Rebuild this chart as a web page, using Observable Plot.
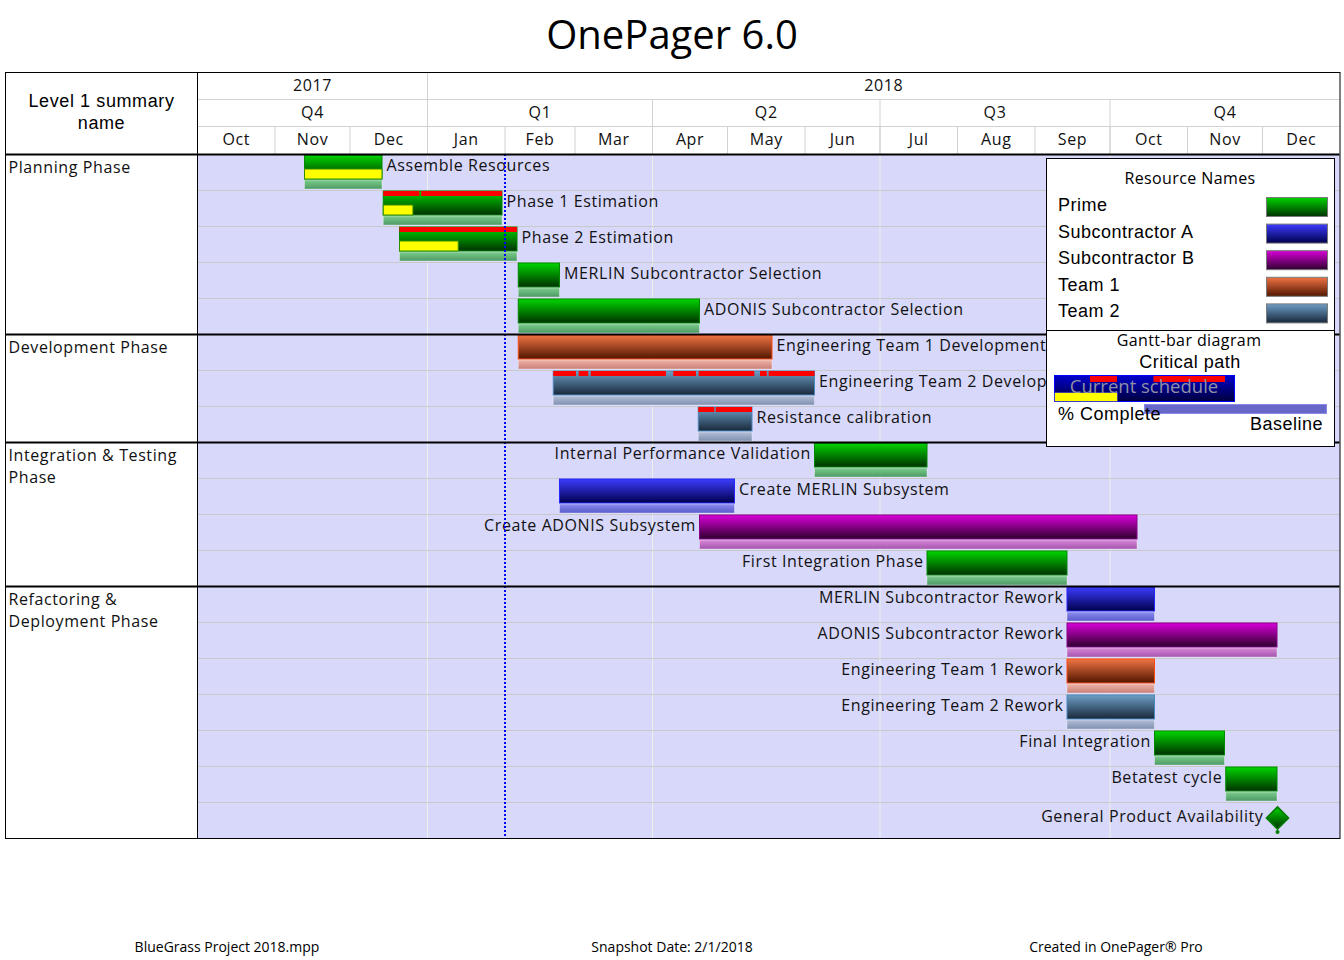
<!DOCTYPE html>
<html><head><meta charset="utf-8">
<script src="https://cdn.jsdelivr.net/npm/d3@7"></script>
<script src="https://cdn.jsdelivr.net/npm/@observablehq/plot@0.6"></script>
<style>
body{margin:0;background:#fff;width:1344px;height:960px;position:relative;overflow:hidden;font-family:"Open Sans",sans-serif}
#title{position:absolute;left:0;top:14px;width:1344px;text-align:center;font-size:40px;line-height:40px;color:#000}
#chart{position:absolute;left:0;top:72px}
#legend{position:absolute;left:1046px;top:158px}
.foot{position:absolute;top:939px;font-size:14px;line-height:16px;transform:translateX(-50%);white-space:nowrap;color:#000}
</style></head>
<body>
<div id="title">OnePager 6.0</div>
<div id="chart"></div>
<div id="legend"></div>
<div id="footer"></div>
<script>
// ---------------- DATA ----------------
const timelineStart = "2017-10-01";
const timelineEnd = "2019-01-01";
const snapshotDate = "2018-02-01";
const yearLabels = ["2017", "2018"];
const quarterLabels = ["Q4", "Q1", "Q2", "Q3", "Q4"];
const monthLabels = ["Oct","Nov","Dec","Jan","Feb","Mar","Apr","May","Jun","Jul","Aug","Sep","Oct","Nov","Dec"];
const headerTitle = "Level 1 summary\nname";

const phaseNames = ["Planning Phase", "Development Phase", "Integration & Testing\nPhase", "Refactoring &\nDeployment Phase"];
const phaseRowCounts = [5, 3, 4, 7];

const taskNames = [
  "Assemble Resources", "Phase 1 Estimation", "Phase 2 Estimation", "MERLIN Subcontractor Selection", "ADONIS Subcontractor Selection",
  "Engineering Team 1 Development", "Engineering Team 2 Development", "Resistance calibration",
  "Internal Performance Validation", "Create MERLIN Subsystem", "Create ADONIS Subsystem", "First Integration Phase",
  "MERLIN Subcontractor Rework", "ADONIS Subcontractor Rework", "Engineering Team 1 Rework", "Engineering Team 2 Rework",
  "Final Integration", "Betatest cycle", "General Product Availability"
];
const taskStarts = [
  "2017-11-13", "2017-12-14T12:00Z", "2017-12-21", "2018-02-06T12:00Z", "2018-02-06T12:00Z",
  "2018-02-06T12:00Z", "2018-02-20T12:00Z", "2018-04-19T12:00Z",
  "2018-06-05", "2018-02-23", "2018-04-20", "2018-07-20",
  "2018-09-14", "2018-09-14", "2018-09-14", "2018-09-14",
  "2018-10-19", "2018-11-16T12:00Z", "2018-12-07"
];
const taskEnds = [
  "2017-12-14", "2018-01-31", "2018-02-06", "2018-02-23", "2018-04-20",
  "2018-05-19", "2018-06-05", "2018-05-11",
  "2018-07-20", "2018-05-04", "2018-10-12", "2018-09-14",
  "2018-10-19", "2018-12-07", "2018-10-19", "2018-10-19",
  "2018-11-16", "2018-12-07", "2018-12-07"
];
const taskResources = [
  "Prime", "Prime", "Prime", "Prime", "Prime",
  "Team 1", "Team 2", "Team 2",
  "Prime", "Subcontractor A", "Subcontractor B", "Prime",
  "Subcontractor A", "Subcontractor B", "Team 1", "Team 2",
  "Prime", "Prime", "Prime"
];
const taskPercentComplete = [100, 25, 50, 0, 0, 0, 0, 0, 0, 0, 0, 0, 0, 0, 0, 0, 0, 0, 0];
const taskLabelSide = [
  "right", "right", "right", "right", "right",
  "right", "right", "right",
  "left", "right", "left", "left",
  "left", "left", "left", "left",
  "left", "left", "left"
];
const criticalSegments = [
  [],
  [["2017-12-14T12:00Z", "2017-12-29"], ["2017-12-29T16:00Z", "2018-01-31"]],
  [["2017-12-21", "2018-02-06"]],
  [], [], [],
  [["2018-02-20T12:00Z", "2018-03-01T14:00Z"], ["2018-03-02T16:00Z", "2018-03-06T12:00Z"], ["2018-03-07T12:00Z", "2018-04-06T14:00Z"],
   ["2018-04-09T12:00Z", "2018-04-18T14:00Z"], ["2018-04-19T16:00Z", "2018-05-11T22:00Z"], ["2018-05-14T05:00Z", "2018-05-16T22:00Z"],
   ["2018-05-17T16:00Z", "2018-06-05"]],
  [["2018-04-19T12:00Z", "2018-04-25T22:00Z"], ["2018-04-26T12:00Z", "2018-05-11"]],
  [], [], [], [], [], [], [], [], [], [], []
];
const resourceNames = ["Prime", "Subcontractor A", "Subcontractor B", "Team 1", "Team 2"];
const footerTexts = ["BlueGrass Project 2018.mpp", "Snapshot Date: 2/1/2018", "Created in OnePager\u00ae Pro"];

// ---------------- STYLES / LAYOUT ----------------
const resourceStyle = {
  "Prime":           {top: "#00d400", bottom: "#003200", stroke: "#008a00", baseTop: "#7ccc8c", baseBottom: "#4c9a64"},
  "Subcontractor A": {top: "#3c3cff", bottom: "#00004c", stroke: "#2424ff", baseTop: "#8c8cf0", baseBottom: "#5a5acc"},
  "Subcontractor B": {top: "#d800d8", bottom: "#2e002e", stroke: "#8a008a", baseTop: "#d888d8", baseBottom: "#a454ac"},
  "Team 1":          {top: "#f07444", bottom: "#521600", stroke: "#ff4a10", baseTop: "#f0b2a8", baseBottom: "#c88078"},
  "Team 2":          {top: "#6e9ec6", bottom: "#18283a", stroke: "#4a88c0", baseTop: "#b2bed8", baseBottom: "#8090b0"}
};
const key = r => r.replace(/\s+/g, "-");
const ROW_H = 36, HEADER_H = 82, LEFT_W = 192, MONTH_H = 28, QUARTER_H = 55;
const M = {top: HEADER_H, bottom: 2, left: 197, right: 4.5};
const W = 1344;

// ---------------- DERIVED ----------------
const T0 = new Date(timelineStart), T1 = new Date(timelineEnd);
const tasks = taskNames.map((name, i) => ({
  name, row: i, start: new Date(taskStarts[i]), end: new Date(taskEnds[i]), res: taskResources[i],
  pct: taskPercentComplete[i], side: taskLabelSide[i], milestone: taskStarts[i] === taskEnds[i]
}));
const bars = tasks.filter(d => !d.milestone);
const milestones = tasks.filter(d => d.milestone);
const progress = bars.filter(d => d.pct > 0).map(d => ({...d, pend: new Date(+d.start + (d.end - d.start) * d.pct / 100)}));
const crit = tasks.flatMap(d => criticalSegments[d.row].map(([s, e]) => ({row: d.row, s: new Date(s), e: new Date(e)})));

let acc = 0;
const phases = phaseNames.map((name, i) => { const p = {name, row: acc}; acc += phaseRowCounts[i]; return p; });
const totalRows = acc;
const phaseBoundaries = phases.slice(1).map(p => p.row);
const rowLines = d3.range(1, totalRows).filter(r => !phaseBoundaries.includes(r));
const FRAME_H = totalRows * ROW_H;
const H = HEADER_H + FRAME_H + M.bottom;

const monthStarts = d3.utcMonth.range(T0, T1);
const months = monthStarts.map((s, i) => ({label: monthLabels[i], s, e: monthStarts[i + 1] || T1}));
const qStarts = d3.utcMonth.every(3).range(T0, T1);
const quarters = qStarts.map((s, i) => ({label: quarterLabels[i], s, e: qStarts[i + 1] || T1}));
const yStarts = [T0, ...d3.utcYear.range(T0, T1)];
const years = yStarts.map((s, i) => ({label: yearLabels[i], s, e: yStarts[i + 1] || T1}));
const mid = d => new Date((+d.s + +d.e) / 2);

const labelFont = {fontSize: 16, fill: "#111"};

const svg = Plot.plot({
  width: W, height: H,
  marginTop: M.top, marginBottom: M.bottom, marginLeft: M.left, marginRight: M.right,
  x: {type: "utc", domain: [T0, T1], axis: null},
  y: {domain: [0, totalRows], reverse: true, axis: null},
  color: {type: "identity"},
  style: {fontFamily: "'Open Sans', sans-serif", fontSize: "16px", color: "#000", background: "#fff", letterSpacing: "0.6px", overflow: "visible"},
  marks: [
    Plot.frame({fill: "#d8d8fa"}),
    Plot.ruleX(qStarts.slice(1), {stroke: "#eeeeea"}),
    Plot.ruleY(rowLines, {stroke: "#c9c9c9"}),
    // baseline bars
    Plot.rect(bars, {x1: "start", x2: "end", y1: "row", y2: d => d.row + 1, insetTop: 26, insetBottom: 1,
      fill: d => `url(#base-${key(d.res)})`, stroke: "rgba(255,255,255,0.35)"}),
    // current schedule bars
    Plot.rect(bars, {x1: "start", x2: "end", y1: "row", y2: d => d.row + 1, insetTop: 1, insetBottom: 11,
      fill: d => `url(#bar-${key(d.res)})`, stroke: d => resourceStyle[d.res].stroke}),
    // % complete
    Plot.rect(progress, {x1: "start", x2: "pend", y1: "row", y2: d => d.row + 1, insetTop: 15, insetBottom: 11,
      fill: "#ffff00", stroke: "#2f8f00"}),
    // critical path
    Plot.rect(crit, {x1: "s", x2: "e", y1: "row", y2: d => d.row + 1, insetTop: 1, insetBottom: 30, fill: "#ff0000"}),
    // milestones
    Plot.dot(milestones, {x: "start", y: "row", dy: 29.5, r: 2, fill: "#008000"}),
    Plot.dot(milestones, {x: "start", y: "row", dy: 15.5, symbol: "diamond2", r: 10,
      fill: d => `url(#bar-${key(d.res)})`, stroke: "#007a00"}),
    // task labels
    Plot.text(bars.filter(d => d.side === "right"), {x: "end", y: "row", text: "name", dx: 4, dy: 11,
      textAnchor: "start", lineAnchor: "middle", ...labelFont}),
    Plot.text(bars.filter(d => d.side === "left"), {x: "start", y: "row", text: "name", dx: -4, dy: 11,
      textAnchor: "end", lineAnchor: "middle", ...labelFont}),
    Plot.text(milestones, {x: "start", y: "row", text: "name", dx: -14, dy: 14.5,
      textAnchor: "end", lineAnchor: "middle", ...labelFont}),
    // current date
    Plot.ruleX([new Date(snapshotDate)], {stroke: "#0000ff", strokeWidth: 2, strokeDasharray: "2,2"}),
    // header
    Plot.ruleX(monthStarts.slice(1), {stroke: "#d2d2d2", insetTop: -MONTH_H, insetBottom: FRAME_H}),
    Plot.ruleX(qStarts.slice(1), {stroke: "#d2d2d2", insetTop: -QUARTER_H, insetBottom: FRAME_H}),
    Plot.ruleX(yStarts.slice(1), {stroke: "#d2d2d2", insetTop: -HEADER_H, insetBottom: FRAME_H}),
    Plot.ruleY([0], {dy: -QUARTER_H, stroke: "#d2d2d2"}),
    Plot.ruleY([0], {dy: -MONTH_H, stroke: "#d2d2d2"}),
    Plot.text(months, {x: mid, text: "label", frameAnchor: "top", dy: -9.5, lineAnchor: "bottom", fontSize: 16, fill: "#111"}),
    Plot.text(quarters, {x: mid, text: "label", frameAnchor: "top", dy: -37, lineAnchor: "bottom", fontSize: 16, fill: "#111"}),
    Plot.text(years, {x: mid, text: "label", frameAnchor: "top", dy: -63.5, lineAnchor: "bottom", fontSize: 16, fill: "#111"}),
    Plot.text([headerTitle], {text: d => d, frameAnchor: "top-left", dx: -LEFT_W / 2, dy: -25.5, textAnchor: "middle",
      lineAnchor: "bottom", lineHeight: 1.2, fontFamily: "'Liberation Sans', Arial, sans-serif", fontSize: 18, fill: "#000"}),
    // left column phase names
    Plot.text(phases, {y: "row", text: "name", frameAnchor: "left", dx: -LEFT_W + 3, dy: 2.5, textAnchor: "start",
      lineAnchor: "top", lineHeight: 1.375, fontSize: 16, fill: "#111"}),
    // structure lines
    Plot.ruleY([0, ...phaseBoundaries], {stroke: "#000", strokeWidth: 2, insetLeft: -LEFT_W}),
    Plot.ruleX([T0], {stroke: "#000", insetTop: -HEADER_H}),
    Plot.frame({stroke: "#000", insetLeft: -LEFT_W, insetTop: -HEADER_H})
  ]
});

// gradients
const defs = d3.create("svg:defs");
function grad(id, top, bottom) {
  const g = defs.append("linearGradient").attr("id", id).attr("x1", 0).attr("y1", 0).attr("x2", 0).attr("y2", 1);
  g.append("stop").attr("offset", "0%").attr("stop-color", top);
  g.append("stop").attr("offset", "100%").attr("stop-color", bottom);
}
for (const r of resourceNames) {
  const s = resourceStyle[r];
  grad(`bar-${key(r)}`, s.top, s.bottom);
  grad(`base-${key(r)}`, s.baseTop, s.baseBottom);
}
grad("legend-current", "#0000cc", "#00003c");
svg.insertBefore(defs.node(), svg.firstChild);
document.getElementById("chart").appendChild(svg);

// ---------------- LEGEND ----------------
const LG = d3.create("svg").attr("width", 290).attr("height", 290)
  .style("font-family", "'Liberation Sans', Arial, sans-serif").style("letter-spacing", "0.5px");
LG.append("rect").attr("x", 0.5).attr("y", 0.5).attr("width", 288).attr("height", 288).attr("fill", "#fff").attr("stroke", "#000");
LG.append("line").attr("x1", 0).attr("x2", 289).attr("y1", 172.5).attr("y2", 172.5).attr("stroke", "#000");
LG.append("text").attr("x", 144).attr("y", 26).attr("text-anchor", "middle").style("font-family", "'Open Sans', sans-serif")
  .style("font-size", "16px").style("letter-spacing", "0.4px").text("Resource Names");
resourceNames.forEach((r, i) => {
  LG.append("text").attr("x", 12).attr("y", 53 + i * 26.6).style("font-size", "18px").text(r);
  LG.append("rect").attr("x", 220.5).attr("y", 39.5 + i * 26.6).attr("width", 61).attr("height", 19)
    .attr("fill", `url(#bar-${key(r)})`).attr("stroke", "#7a7a7a");
});
LG.append("text").attr("x", 143).attr("y", 188).attr("text-anchor", "middle").style("font-family", "'Open Sans', sans-serif")
  .style("font-size", "16px").style("letter-spacing", "0.4px").text("Gantt-bar diagram");
LG.append("text").attr("x", 144).attr("y", 209.5).attr("text-anchor", "middle").style("font-size", "18px").text("Critical path");
LG.append("rect").attr("x", 8.5).attr("y", 217.5).attr("width", 180).attr("height", 26).attr("fill", "url(#legend-current)").attr("stroke", "#0000ff");
LG.append("rect").attr("x", 44).attr("y", 218).attr("width", 27).attr("height", 6).attr("fill", "#ff0000");
LG.append("rect").attr("x", 107.5).attr("y", 218).attr("width", 71.5).attr("height", 6).attr("fill", "#ff0000");
LG.append("rect").attr("x", 8.5).attr("y", 234.5).attr("width", 63).attr("height", 9).attr("fill", "#ffff00").attr("stroke", "#0000ff").attr("stroke-width", 0.5);
LG.append("text").attr("x", 98).attr("y", 235).attr("text-anchor", "middle").style("font-family", "'Open Sans', sans-serif")
  .style("font-size", "18.5px").style("letter-spacing", "0px").attr("fill", "#9090a4").text("Current schedule");
LG.append("rect").attr("x", 98.5).attr("y", 246.5).attr("width", 182).attr("height", 9).attr("fill", "#6767c9").attr("stroke", "#8a8ae6");
LG.append("text").attr("x", 12).attr("y", 262).style("font-size", "18px").text("% Complete");
LG.append("text").attr("x", 277).attr("y", 272).attr("text-anchor", "end").style("font-size", "18px").text("Baseline");
document.getElementById("legend").appendChild(LG.node());

// ---------------- FOOTER ----------------
const footX = [227, 672, 1116];
footerTexts.forEach((t, i) => {
  const d = document.createElement("div");
  d.className = "foot"; d.style.left = footX[i] + "px"; d.textContent = t;
  document.getElementById("footer").appendChild(d);
});
</script>
</body></html>
